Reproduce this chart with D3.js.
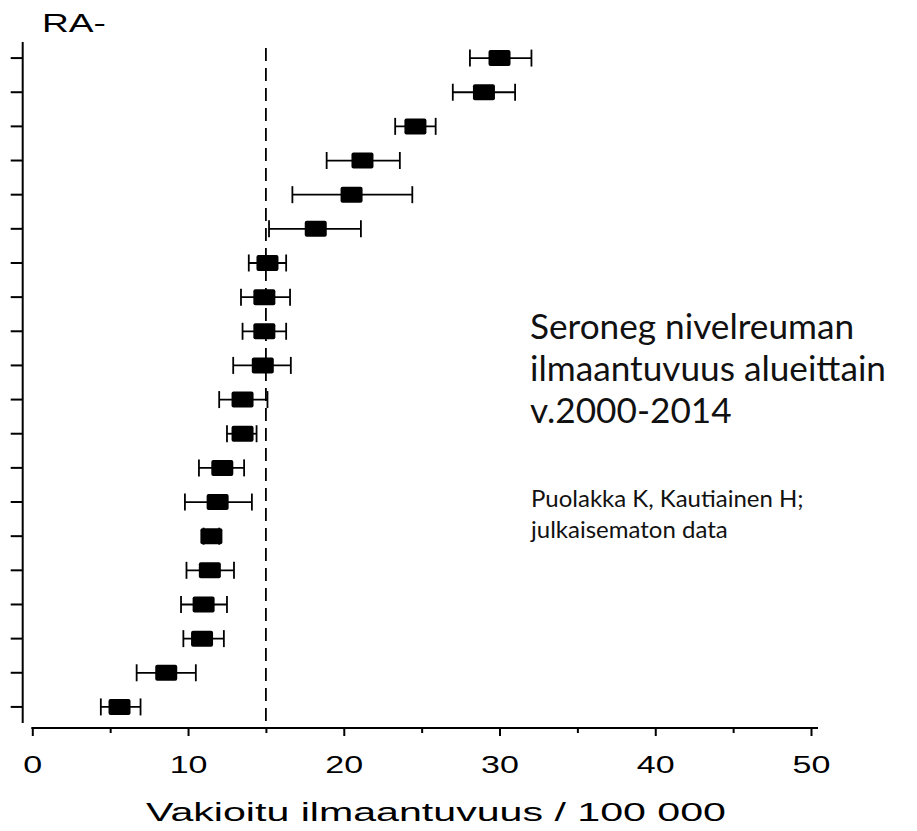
<!DOCTYPE html>
<html>
<head>
<meta charset="utf-8">
<script src="https://cdn.jsdelivr.net/npm/d3@7"></script>
<style>
  body { margin: 0; background: #fff; }
  svg { display: block; }
</style>
</head>
<body>
<svg id="chart" width="917" height="831"></svg>
<script>
// Regions (unlabelled in the original), top to bottom
const rows = ['1', '2', '3', '4', '5', '6', '7', '8', '9', '10',
              '11', '12', '13', '14', '15', '16', '17', '18', '19', '20'];
// Standardised incidence / 100 000 and its confidence interval
const estimates = [30.0, 29.0, 24.6, 21.2, 20.5, 18.2, 15.1, 14.9, 14.9, 14.8,
                   13.5, 13.5, 12.2, 11.9, 11.5, 11.4, 11.0, 10.9, 8.6, 5.6];
const lower = [28.1, 27.0, 23.3, 18.9, 16.7, 15.2, 13.9, 13.4, 13.5, 12.9,
               12.0, 12.5, 10.7, 9.8, 11.0, 9.9, 9.55, 9.7, 6.7, 4.4];
const upper = [32.05, 31.0, 25.9, 23.6, 24.4, 21.1, 16.3, 16.55, 16.3, 16.6,
               15.1, 14.4, 13.6, 14.1, 12.0, 12.95, 12.5, 12.3, 10.5, 6.95];
const referenceValue = 15;
const majorTicks = [0, 10, 20, 30, 40, 50];
const minorTicks = [5, 15, 25, 35, 45];

const titleLines = ['Seroneg nivelreuman', 'ilmaantuvuus alueittain', 'v.2000-2014'];
const sourceLines = ['Puolakka K, Kautiainen H;', 'julkaisematon data'];

const svg = d3.select('#chart');

const x = d3.scaleLinear().domain([0, 50]).range([32.3, 811]);
const y = d3.scaleBand().domain(rows).range([41, 724]).paddingInner(0);
const yc = d => y(d) + y.bandwidth() / 2;

const axisY = 728;
const axisX = 22.7;

// x axis: major ticks with labels
const xAxis = svg.append('g')
    .attr('transform', `translate(0,${axisY})`)
    .call(d3.axisBottom(x).tickValues(majorTicks).tickSize(8).tickSizeOuter(0));
xAxis.select('.domain').remove();
xAxis.selectAll('.tick line').attr('stroke', '#000').attr('stroke-width', 2);
xAxis.selectAll('.tick text')
    .attr('y', 45)
    .attr('dy', null)
    .attr('transform', 'scale(1.48,1)')
    .attr('font-family', '"Liberation Sans", Arial, sans-serif')
    .attr('font-size', 23)
    .attr('fill', '#000');

// x axis: minor ticks
const xMinor = svg.append('g')
    .attr('transform', `translate(0,${axisY})`)
    .call(d3.axisBottom(x).tickValues(minorTicks).tickSize(5).tickFormat(''));
xMinor.select('.domain').remove();
xMinor.selectAll('.tick line').attr('stroke', '#000').attr('stroke-width', 2);

svg.append('line')
    .attr('x1', x(0) - 1).attr('x2', 818)
    .attr('y1', axisY).attr('y2', axisY)
    .attr('stroke', '#000').attr('stroke-width', 2);

// y axis: one tick per region, no labels
const yAxis = svg.append('g')
    .attr('transform', `translate(${axisX},0)`)
    .call(d3.axisLeft(y).tickSize(12).tickFormat('').tickSizeOuter(0));
yAxis.select('.domain').remove();
yAxis.selectAll('.tick line').attr('stroke', '#000').attr('stroke-width', 2);
svg.append('line')
    .attr('x1', axisX).attr('x2', axisX)
    .attr('y1', 42).attr('y2', 723)
    .attr('stroke', '#000').attr('stroke-width', 2);

// dashed reference line
svg.append('line')
    .attr('x1', x(referenceValue)).attr('x2', x(referenceValue))
    .attr('y1', 48).attr('y2', axisY)
    .attr('stroke', '#000').attr('stroke-width', 1.8)
    .attr('stroke-dasharray', '13,7');

// confidence intervals
const capHalf = 8.5;
const bars = svg.append('g').attr('stroke', '#000').attr('stroke-width', 1.8);
rows.forEach((r, i) => {
    const cy = yc(r);
    bars.append('line')
        .attr('x1', x(lower[i])).attr('x2', x(upper[i]))
        .attr('y1', cy).attr('y2', cy);
    [lower[i], upper[i]].forEach(v => {
        bars.append('line')
            .attr('x1', x(v)).attr('x2', x(v))
            .attr('y1', cy - capHalf).attr('y2', cy + capHalf);
    });
});

// point estimates
const boxW = 22, boxH = 16;
svg.append('g').selectAll('rect')
    .data(rows)
    .join('rect')
    .attr('x', (d, i) => x(estimates[i]) - boxW / 2)
    .attr('y', d => yc(d) - boxH / 2)
    .attr('width', boxW)
    .attr('height', boxH)
    .attr('rx', 2)
    .attr('fill', '#000');

// labels
svg.append('text')
    .attr('x', 42).attr('y', 32)
    .attr('font-family', '"Liberation Sans", Arial, sans-serif')
    .attr('font-size', 25)
    .attr('textLength', 64)
    .attr('lengthAdjust', 'spacingAndGlyphs')
    .text('RA-');

svg.append('text')
    .attr('x', 146).attr('y', 821)
    .attr('font-family', '"Liberation Sans", Arial, sans-serif')
    .attr('font-size', 25.5)
    .attr('textLength', 580)
    .attr('lengthAdjust', 'spacingAndGlyphs')
    .text('Vakioitu ilmaantuvuus / 100 000');

svg.append('g').selectAll('text')
    .data(titleLines)
    .join('text')
    .attr('x', 530)
    .attr('y', (d, i) => 339 + i * 42)
    .attr('font-family', 'Lato, "Open Sans", sans-serif')
    .attr('font-size', 35.2)
    .attr('fill', '#111')
    .text(d => d);

svg.append('g').selectAll('text')
    .data(sourceLines)
    .join('text')
    .attr('x', 531)
    .attr('y', (d, i) => 507 + i * 31)
    .attr('font-family', 'Lato, "Open Sans", sans-serif')
    .attr('font-size', 24)
    .attr('fill', '#111')
    .text(d => d);
</script>
</body>
</html>
